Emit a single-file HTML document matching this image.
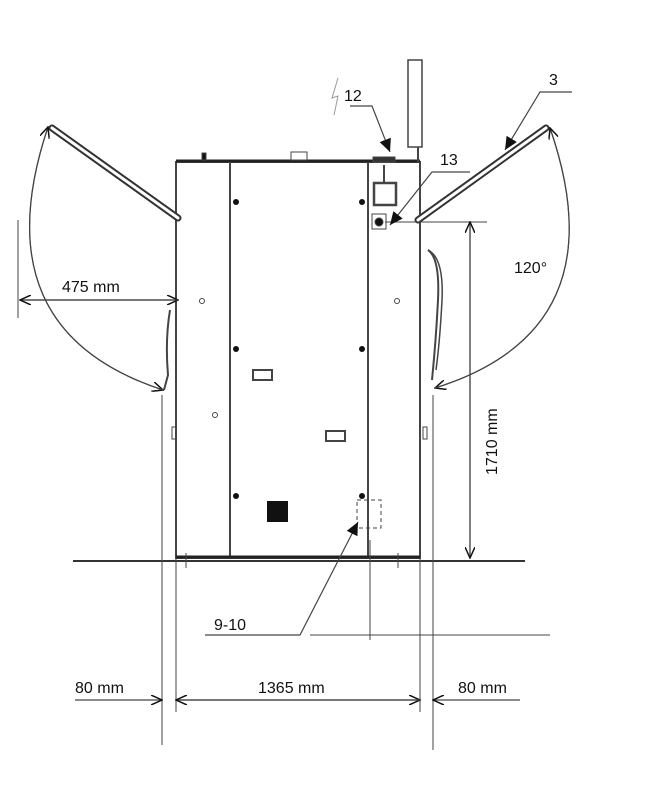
<!DOCTYPE html>
<html><head><style>body{margin:0;background:#fff}svg{display:block}text{font-family:"Liberation Sans",sans-serif;font-size:16px;fill:#111}</style></head><body>
<svg width="650" height="800" viewBox="0 0 650 800">
<defs><marker id="a" markerWidth="12" markerHeight="10" refX="11" refY="5" orient="auto" markerUnits="userSpaceOnUse"><path d="M0,0 L11,5 L0,10" fill="none" stroke="#111" stroke-width="1.5"/></marker>
<marker id="f" markerWidth="14" markerHeight="12" refX="13" refY="6" orient="auto" markerUnits="userSpaceOnUse"><path d="M0,0 L13,6 L0,12z" fill="#111"/></marker></defs>
<g stroke="#444" fill="none">
<!-- body -->
<rect x="176" y="162" width="244" height="396" stroke-width="2"/>
<line x1="176" y1="161" x2="420" y2="161" stroke="#222" stroke-width="3"/>
<line x1="230" y1="162" x2="230" y2="558" stroke-width="2"/>
<line x1="368" y1="162" x2="368" y2="558" stroke-width="2"/>
<line x1="176" y1="557" x2="420" y2="557" stroke="#222" stroke-width="3"/>
<rect x="408" y="60" width="14" height="87" stroke-width="1.5"/>
<line x1="418" y1="147" x2="418" y2="162" stroke-width="2"/>
<rect x="291" y="152" width="16" height="8" stroke-width="1"/>
<rect x="202" y="153" width="4" height="7" fill="#111"/>
<rect x="373" y="157" width="22" height="5" fill="#333"/>
<rect x="374" y="183" width="22" height="22" stroke-width="2.5"/>
<line x1="384" y1="165" x2="384" y2="183" stroke-width="2"/>
<rect x="372" y="214" width="14" height="15" stroke-width="1"/>
<circle cx="379" cy="222" r="4" fill="#111"/>
<!-- dots -->
<g fill="#111" stroke="none"><circle cx="236" cy="202" r="3"/><circle cx="362" cy="202" r="3"/><circle cx="236" cy="349" r="3"/><circle cx="362" cy="349" r="3"/><circle cx="236" cy="496" r="3"/><circle cx="362" cy="496" r="3"/><rect x="267" y="501" width="21" height="21"/></g>
<circle cx="202" cy="301" r="2.5"/><circle cx="397" cy="301" r="2.5"/><circle cx="215" cy="415" r="2.5"/>
<rect x="253" y="370" width="19" height="10" stroke-width="2"/><rect x="326" y="431" width="19" height="10" stroke-width="2"/>
<rect x="172" y="427" width="4" height="12"/><rect x="423" y="427" width="4" height="12"/>
<rect x="357" y="500" width="24" height="28" stroke-dasharray="4,3"/>
<!-- doors -->
<line x1="52" y1="128" x2="178" y2="218" stroke="#333" stroke-width="7" stroke-linecap="round"/>
<line x1="52" y1="128" x2="178" y2="218" stroke="#fff" stroke-width="3" stroke-linecap="round"/>
<line x1="418" y1="220" x2="546" y2="128" stroke="#333" stroke-width="7" stroke-linecap="round"/>
<line x1="418" y1="220" x2="546" y2="128" stroke="#fff" stroke-width="3" stroke-linecap="round"/>
<path d="M170,310 Q165,340 168,375 L164,390" stroke-width="2"/>
<path d="M428,250 Q440,258 438,300 Q436,340 432,380" stroke-width="2"/>
<path d="M428,250 Q444,258 442,300 Q440,340 436,370" stroke-width="1.5"/>
<!-- arcs -->
<path d="M48,127 Q-20,330 163,390" stroke-width="1.2" marker-end="url(#a)"/>
<path d="M163,390 Q-20,330 48,127" stroke-width="1.2" marker-end="url(#a)"/>
<path d="M550,128 Q620,330 435,388" stroke-width="1.2" marker-end="url(#a)"/>
<path d="M435,388 Q620,330 550,128" stroke-width="1.2" marker-end="url(#a)"/>
<!-- 475 -->
<line x1="18" y1="220" x2="18" y2="318" stroke-width="1"/>
<line x1="20" y1="300" x2="178" y2="300" stroke-width="1.2" marker-end="url(#a)"/>
<line x1="178" y1="300" x2="20" y2="300" stroke-width="1.2" marker-end="url(#a)"/>
<!-- 1710 -->
<line x1="385" y1="222" x2="487" y2="222" stroke-width="1"/>
<line x1="470" y1="225" x2="470" y2="558" stroke-width="1.2" marker-end="url(#a)"/>
<line x1="470" y1="555" x2="470" y2="222" stroke-width="1.2" marker-end="url(#a)"/>
<!-- ground -->
<line x1="73" y1="561" x2="525" y2="561" stroke="#333" stroke-width="2"/>
<line x1="162" y1="395" x2="162" y2="745" stroke-width="1"/>
<line x1="176" y1="558" x2="176" y2="712" stroke-width="1"/>
<line x1="420" y1="558" x2="420" y2="712" stroke-width="1"/>
<line x1="433" y1="395" x2="433" y2="750" stroke-width="1"/>
<line x1="370" y1="540" x2="370" y2="640" stroke-width="1"/>
<line x1="186" y1="553" x2="186" y2="568" stroke-width="1"/><line x1="398" y1="553" x2="398" y2="568" stroke-width="1"/>
<!-- bottom dims -->
<line x1="75" y1="700" x2="162" y2="700" stroke-width="1.2" marker-end="url(#a)"/>
<line x1="176" y1="700" x2="420" y2="700" stroke-width="1.2" marker-end="url(#a)"/>
<line x1="420" y1="700" x2="176" y2="700" stroke-width="1.2" marker-end="url(#a)"/>
<line x1="520" y1="700" x2="433" y2="700" stroke-width="1.2" marker-end="url(#a)"/>
<!-- leaders -->
<polyline points="205,635 300,635 358,522" stroke-width="1.2" marker-end="url(#f)"/>
<line x1="310" y1="635" x2="550" y2="635" stroke-width="1"/>
<polyline points="350,106 372,106 390,152" stroke-width="1.2" marker-end="url(#f)"/>
<polyline points="470,172 432,172 390,225" stroke-width="1.2" marker-end="url(#f)"/>
<polyline points="572,92 540,92 505,150" stroke-width="1.2" marker-end="url(#f)"/>
<path d="M338,78 L332,98 L338,96 L334,115" stroke="#999" stroke-width="1"/>
</g>
<text x="344" y="101">12</text>
<text x="440" y="165">13</text>
<text x="549" y="85">3</text>
<text x="62" y="292">475 mm</text>
<text x="514" y="273">120°</text>
<text transform="translate(497,475) rotate(-90)">1710 mm</text>
<text x="214" y="630">9-10</text>
<text x="75" y="693">80 mm</text>
<text x="258" y="693">1365 mm</text>
<text x="458" y="693">80 mm</text>
</svg></body></html>
